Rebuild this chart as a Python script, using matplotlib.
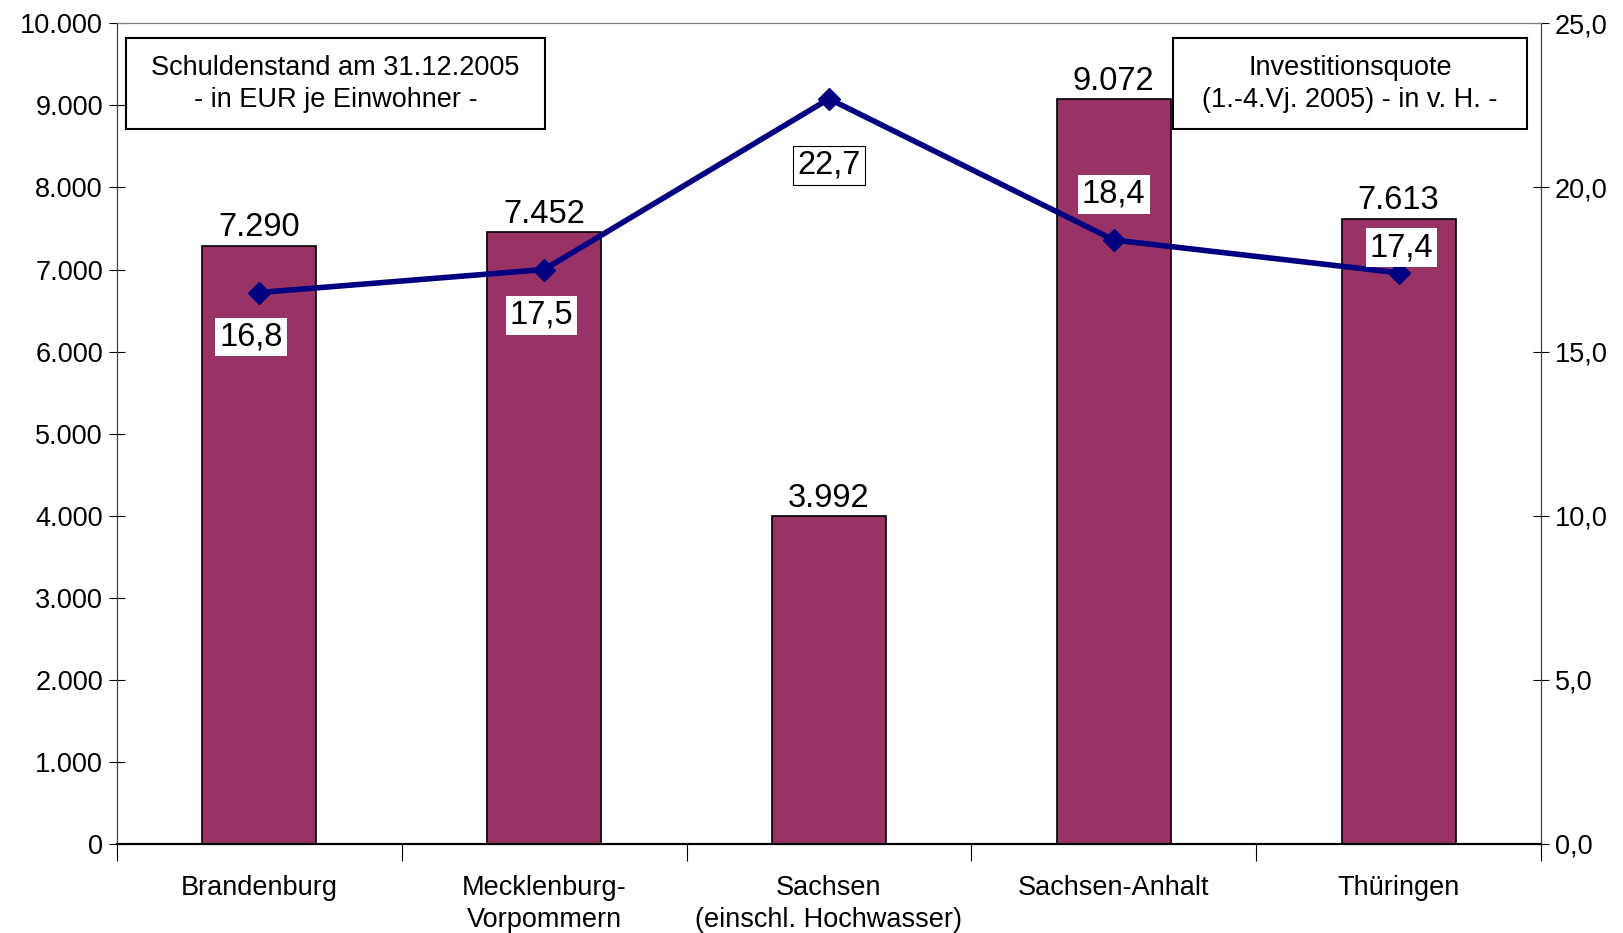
import numpy as np
import matplotlib.pyplot as plt
from matplotlib.patches import Rectangle
from matplotlib.ticker import FixedLocator, FuncFormatter

plt.rcParams['font.family'] = ['Liberation Sans', 'DejaVu Sans']

# Daten
laender = ['Brandenburg', 'Mecklenburg-\nVorpommern', 'Sachsen\n(einschl. Hochwasser)',
           'Sachsen-Anhalt', 'Thüringen']
schulden = [7290, 7452, 3992, 9072, 7613]
quote = [16.8, 17.5, 22.7, 18.4, 17.4]

x = np.arange(len(laender))

fig = plt.figure(figsize=(16.23, 9.33), dpi=100)
ax = fig.add_axes([0.072, 0.0954, 0.8775, 0.8796])
ax2 = ax.twinx()

# Balken
bars = ax.bar(x, schulden, width=0.4, color='#993366', edgecolor='black', linewidth=1.2, zorder=2)
for xi, v in zip(x, schulden):
    ax.annotate(f"{v:,}".replace(',', '.'), (xi, v), xytext=(0, 2), textcoords='offset points',
                ha='center', va='bottom', fontsize=23.5)

ax.set_xlim(-0.5, len(laender) - 0.5)
ax.set_ylim(0, 10000)
ax.yaxis.set_major_locator(FixedLocator(np.arange(0, 10001, 1000)))
ax.yaxis.set_major_formatter(FuncFormatter(lambda v, p: f"{int(v):,}".replace(',', '.')))
ax.tick_params(axis='y', direction='inout', length=12, labelsize=19.5, pad=4)

# x-Achse: Striche zwischen den Kategorien, Beschriftung in der Mitte
ax.xaxis.set_major_locator(FixedLocator(np.arange(-0.5, len(laender), 1)))
ax.xaxis.set_major_formatter(FuncFormatter(lambda v, p: ''))
ax.xaxis.set_minor_locator(FixedLocator(x))
ax.set_xticklabels(laender, minor=True, fontsize=19.5, linespacing=1.3)
ax.tick_params(axis='x', which='major', direction='out', length=12)
ax.tick_params(axis='x', which='minor', length=0, pad=22)

# Linie
ax2.plot(x, quote, color='#000080', linewidth=4, marker='D', markersize=11, zorder=3)
ax2.set_ylim(0, 25)
ax2.yaxis.set_major_locator(FixedLocator(np.arange(0, 26, 5)))
ax2.yaxis.set_major_formatter(FuncFormatter(lambda v, p: f"{v:.1f}".replace('.', ',')))
ax2.tick_params(axis='y', direction='inout', length=12, labelsize=19.5, pad=4)

versatz = [(-6, -32), (-2, -33), (0, -48), (0, 33), (2, 18)]
for i, (xi, q) in enumerate(zip(x, quote)):
    rahmen = 'black' if i == 2 else 'none'
    ax2.annotate(f"{q:.1f}".replace('.', ','), (xi, q), xytext=versatz[i], textcoords='offset points',
                 ha='center', va='center', fontsize=23.5,
                 bbox=dict(boxstyle='square,pad=0.12', fc='white', ec=rahmen, lw=0.8))

for a in (ax, ax2):
    a.spines['top'].set_color('#808080')
    a.spines['left'].set_color('#404040')
    a.spines['right'].set_color('#404040')
    a.spines['bottom'].set_linewidth(1.5)

# Legendenkästen
ax.add_patch(Rectangle((0.0063, 0.871), 0.2943, 0.1107, transform=ax.transAxes,
                       fill=True, fc='white', ec='black', lw=1.5, zorder=4))
ax.text(0.1535, 0.9265, 'Schuldenstand am 31.12.2005\n- in EUR je Einwohner -', transform=ax.transAxes,
        ha='center', va='center', fontsize=19.5, linespacing=1.3, zorder=5)
ax2.add_patch(Rectangle((0.7416, 0.871), 0.2484, 0.1107, transform=ax2.transAxes,
                        fill=True, fc='white', ec='black', lw=1.5, zorder=4))
ax2.text(0.8658, 0.9265, 'Investitionsquote\n(1.-4.Vj. 2005) - in v. H. -', transform=ax2.transAxes,
         ha='center', va='center', fontsize=19.5, linespacing=1.3, zorder=5)

fig.savefig('out.png', dpi=100)
